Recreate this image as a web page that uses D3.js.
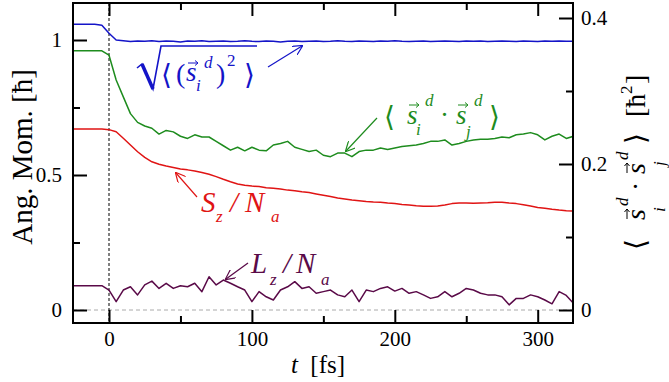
<!DOCTYPE html>
<html><head><meta charset="utf-8">
<script src="https://cdn.jsdelivr.net/npm/d3@7"></script>
<style>
html,body{margin:0;padding:0;background:#fff;}
svg{display:block;font-family:"Liberation Serif","DejaVu Serif",serif;}
</style></head>
<body>
<svg id="c" width="669" height="382"></svg>
<script>
const time = [-25,-20,-15,-10,-5,0,5,10,15,20,25,30,35,40,45,50,55,60,65,70,75,80,85,90,95,100,105,110,115,120,125,130,135,140,145,150,155,160,165,170,175,180,185,190,195,200,205,210,215,220,225,230,235,240,245,250,255,260,265,270,275,280,285,290,295,300,305,310,315,320,325];

// sqrt(<(s_i^d)^2>)  [hbar]  (left axis)
const blueVals = [1.058,1.058,1.058,1.058,1.055,1.025,1.0,0.997,0.994,0.996,0.995,0.997,0.994,0.996,0.995,0.993,0.996,0.995,0.997,0.994,0.995,0.996,0.994,0.995,0.997,0.995,0.994,0.996,0.995,0.993,0.995,0.996,0.994,0.995,0.996,0.994,0.995,0.997,0.995,0.994,0.996,0.995,0.994,0.996,0.995,0.997,0.995,0.994,0.995,0.996,0.994,0.995,0.996,0.995,0.994,0.996,0.995,0.996,0.994,0.995,0.996,0.995,0.994,0.996,0.995,0.994,0.996,0.995,0.996,0.995,0.995];

// <s_i^d . s_j^d>  [hbar^2]  (right axis)
const greenVals = [0.355,0.355,0.355,0.355,0.355,0.349,0.315,0.292,0.269,0.257,0.252,0.249,0.241,0.246,0.244,0.238,0.235,0.240,0.237,0.237,0.231,0.225,0.219,0.223,0.218,0.223,0.219,0.218,0.226,0.228,0.231,0.223,0.220,0.217,0.219,0.212,0.210,0.215,0.215,0.210,0.217,0.219,0.219,0.222,0.220,0.222,0.224,0.225,0.226,0.228,0.231,0.231,0.233,0.226,0.228,0.231,0.233,0.234,0.234,0.235,0.237,0.236,0.240,0.241,0.243,0.240,0.233,0.238,0.241,0.235,0.238];

// S_z / N_a  [hbar]  (left axis)
const redVals = [0.670,0.670,0.670,0.670,0.670,0.668,0.660,0.636,0.611,0.586,0.565,0.549,0.540,0.533,0.528,0.522,0.519,0.515,0.509,0.503,0.494,0.484,0.475,0.467,0.462,0.459,0.457,0.453,0.451,0.448,0.444,0.442,0.438,0.435,0.430,0.425,0.420,0.415,0.411,0.407,0.405,0.402,0.400,0.399,0.396,0.394,0.391,0.389,0.386,0.384,0.384,0.385,0.389,0.394,0.396,0.396,0.395,0.396,0.397,0.399,0.399,0.396,0.394,0.390,0.385,0.380,0.377,0.373,0.370,0.368,0.367];

// L_z / N_a  [hbar]  (left axis)
const purpleVals = [0.090,0.090,0.090,0.090,0.090,0.074,0.031,0.074,0.086,0.056,0.093,0.107,0.080,0.099,0.080,0.090,0.086,0.099,0.068,0.123,0.093,0.111,0.099,0.086,0.074,0.031,0.068,0.049,0.037,0.074,0.086,0.105,0.080,0.086,0.062,0.068,0.074,0.056,0.049,0.074,0.031,0.074,0.068,0.080,0.086,0.070,0.080,0.062,0.068,0.056,0.043,0.049,0.068,0.049,0.062,0.080,0.074,0.062,0.056,0.056,0.049,0.019,0.043,0.043,0.056,0.049,0.037,0.023,0.068,0.054,0.025];

const xTicks = [0,100,200,300];
const xMinor = [50,150,250];
const yLeftTicks = [0,0.5,1];
const yLeftMinor = [0.25,0.75];
const yRightTicks = [0,0.2,0.4];
const yRightMinor = [0.1,0.3];

const colors = {blue:"#1414c8", green:"#1e8c1e", red:"#e01414", purple:"#5a0a48"};

const L = 73, R = 573, T = 3, B = 323;
const svg = d3.select("#c");
const x = d3.scaleLinear().domain([-25.2, 324.7]).range([L, R]);
const yL = d3.scaleLinear().domain([0, 1]).range([310, 40]);
const yR = d3.scaleLinear().domain([0, 0.4]).range([310, 18]);

svg.append("clipPath").attr("id","clip").append("rect")
  .attr("x",L).attr("y",T).attr("width",R-L).attr("height",B-T);

// reference lines
svg.append("line").attr("x1",L).attr("x2",R).attr("y1",yL(0)).attr("y2",yL(0))
  .attr("stroke","#aaa").attr("stroke-width",1).attr("stroke-dasharray","4,3");
svg.append("line").attr("x1",x(0)).attr("x2",x(0)).attr("y1",T).attr("y2",B)
  .attr("stroke","#000").attr("stroke-width",1).attr("stroke-dasharray","3,2");

const g = svg.append("g").attr("clip-path","url(#clip)");
function drawSeries(vals, scale, color){
  const line = d3.line().x((d,i)=>x(time[i])).y(d=>scale(d));
  g.append("path").datum(vals).attr("d",line).attr("fill","none")
    .attr("stroke",color).attr("stroke-width",1.5).attr("stroke-linejoin","round");
}
drawSeries(blueVals, yL, colors.blue);
drawSeries(greenVals, yR, colors.green);
drawSeries(redVals, yL, colors.red);
drawSeries(purpleVals, yL, colors.purple);

// axes
const fs = 21;
function styleAxis(sel){
  sel.select(".domain").remove();
  sel.selectAll("line").attr("stroke","#000").attr("stroke-width",2);
  sel.selectAll("text").attr("font-size",fs).attr("font-family",'"Liberation Serif",serif').attr("fill","#000");
}
svg.append("g").attr("transform",`translate(0,${B})`)
  .call(d3.axisBottom(x).tickValues(xTicks).tickSize(-13).tickPadding(8).tickFormat(d3.format("d"))).call(styleAxis);
svg.append("g").attr("transform",`translate(0,${B})`)
  .call(d3.axisBottom(x).tickValues(xMinor).tickSize(-7).tickFormat("")).call(styleAxis);
svg.append("g").attr("transform",`translate(0,${T})`)
  .call(d3.axisTop(x).tickValues(xTicks).tickSize(-13).tickFormat("")).call(styleAxis);
svg.append("g").attr("transform",`translate(0,${T})`)
  .call(d3.axisTop(x).tickValues(xMinor).tickSize(-7).tickFormat("")).call(styleAxis);
svg.append("g").attr("transform",`translate(${L},0)`)
  .call(d3.axisLeft(yL).tickValues(yLeftTicks).tickSize(-14).tickPadding(11).tickFormat(d=>d===0?"0":d===1?"1":d3.format(".1f")(d))).call(styleAxis);
svg.append("g").attr("transform",`translate(${L},0)`)
  .call(d3.axisLeft(yL).tickValues(yLeftMinor).tickSize(-7).tickFormat("")).call(styleAxis);
svg.append("g").attr("transform",`translate(${R},0)`)
  .call(d3.axisRight(yR).tickValues(yRightTicks).tickSize(-14).tickPadding(8).tickFormat(d=>d===0?"0":d3.format(".1f")(d))).call(styleAxis);
svg.append("g").attr("transform",`translate(${R},0)`)
  .call(d3.axisRight(yR).tickValues(yRightMinor).tickSize(-7).tickFormat("")).call(styleAxis);

svg.append("rect").attr("x",L).attr("y",T).attr("width",R-L).attr("height",B-T)
  .attr("fill","none").attr("stroke","#000").attr("stroke-width",2);

// axis titles
const xt = svg.append("text").attr("x",318).attr("y",373).attr("text-anchor","middle").attr("font-size",25);
xt.append("tspan").attr("font-style","italic").text("t");
xt.append("tspan").text("\u00a0 [fs]");
svg.append("text").attr("transform","translate(32,157) rotate(-90)").attr("text-anchor","middle")
  .attr("font-size",29).text("Ang. Mom. [\u0127]");

// piecewise math label helper
function piece(parent, s, px, py, size, opts={}){
  return parent.append("text").attr("x",px).attr("y",py).attr("font-size",size)
    .attr("font-style",opts.italic?"italic":"normal").attr("fill",opts.color||"#000")
    .attr("font-family",opts.family||'"Liberation Serif","DejaVu Serif",serif').text(s);
}
// vector accent drawn as a small arrow path
function vec(parent, px, py, w, color){
  parent.append("path")
    .attr("d",`M${px},${py} h${w} M${px+w-3},${py-2.5} L${px+w},${py} L${px+w-3},${py+2.5}`)
    .attr("fill","none").attr("stroke",color||"#000").attr("stroke-width",1);
}
const ANG_L = "\u27E8", ANG_R = "\u27E9";
const DJ = '"DejaVu Serif",serif';

// right axis title (rotated)
const rg = svg.append("g").attr("transform","translate(645,250) rotate(-90)");
piece(rg, ANG_L, 0, 0, 28, {family:DJ});
piece(rg, "s", 30, 0, 28, {italic:true});
vec(rg, 31, -18, 10);
piece(rg, "i", 38, 20, 17, {italic:true});
piece(rg, "d", 44, -17, 17, {italic:true});
piece(rg, "\u00b7", 59, 0, 28);
piece(rg, "s", 76, 0, 28, {italic:true});
vec(rg, 77, -18, 10);
piece(rg, "j", 84, 20, 17, {italic:true});
piece(rg, "d", 90, -17, 17, {italic:true});
piece(rg, ANG_R, 106, 0, 28, {family:DJ});
piece(rg, "[\u0127", 133, 0, 28);
piece(rg, "2", 156, -13, 17);
piece(rg, "]", 166, 0, 28);

// arrows
const defs = svg.append("defs");
Object.entries(colors).forEach(([k,c])=>{
  defs.append("marker").attr("id","ah-"+k).attr("viewBox","0 0 10 10").attr("refX",9).attr("refY",5)
    .attr("markerWidth",10).attr("markerHeight",10).attr("markerUnits","userSpaceOnUse").attr("orient","auto")
    .append("path").attr("d","M0,0 L10,5 L0,10").attr("fill","none").attr("stroke",c).attr("stroke-width",1.2);
});
function arrow(x1,y1,x2,y2,k){
  svg.append("line").attr("x1",x1).attr("y1",y1).attr("x2",x2).attr("y2",y2)
    .attr("stroke",colors[k]).attr("stroke-width",1.2).attr("marker-end",`url(#ah-${k})`);
}

// blue label
const cb = colors.blue;
svg.append("path").attr("d","M137,68 L142,64 L153,89 L161,46 L257,46").attr("fill","none")
  .attr("stroke",cb).attr("stroke-width",1.6).attr("stroke-linejoin","miter");
svg.append("path").attr("d","M142,64 L153,89").attr("stroke",cb).attr("stroke-width",3.5);
piece(svg, ANG_L, 161, 84, 28, {color:cb, family:DJ});
piece(svg, "(", 176, 83, 28, {color:cb});
piece(svg, "s", 186, 81, 27, {italic:true, color:cb});
vec(svg, 188, 63, 10, cb);
piece(svg, "i", 196, 91, 17, {italic:true, color:cb});
piece(svg, "d", 204, 68, 17, {italic:true, color:cb});
piece(svg, ")", 216, 83, 28, {color:cb});
piece(svg, "2", 227, 66, 17, {color:cb});
piece(svg, ANG_R, 244, 84, 28, {color:cb, family:DJ});
arrow(268,67,302,46,"blue");

// green label
const cg = colors.green;
piece(svg, ANG_L, 384, 126, 28, {color:cg, family:DJ});
piece(svg, "s", 407, 124, 27, {italic:true, color:cg});
vec(svg, 409, 105, 10, cg);
piece(svg, "i", 416, 135, 17, {italic:true, color:cg});
piece(svg, "d", 425, 106, 17, {italic:true, color:cg});
piece(svg, "\u00b7", 440, 124, 27, {color:cg});
piece(svg, "s", 456, 124, 27, {italic:true, color:cg});
vec(svg, 458, 105, 10, cg);
piece(svg, "j", 466, 137, 17, {italic:true, color:cg});
piece(svg, "d", 474, 106, 17, {italic:true, color:cg});
piece(svg, ANG_R, 489, 126, 28, {color:cg, family:DJ});
arrow(377,118,346,151,"green");

// red label
const cr = colors.red;
piece(svg, "S", 201, 212, 29, {italic:true, color:cr});
piece(svg, "z", 216, 222, 17, {italic:true, color:cr});
piece(svg, "/", 230, 212, 29, {italic:true, color:cr});
piece(svg, "N", 245, 212, 29, {italic:true, color:cr});
piece(svg, "a", 271, 222, 17, {italic:true, color:cr});
arrow(197,197,176,173,"red");

// purple label
const cp = colors.purple;
piece(svg, "L", 251, 273, 29, {italic:true, color:cp});
piece(svg, "z", 270, 285, 17, {italic:true, color:cp});
piece(svg, "/", 283, 273, 29, {italic:true, color:cp});
piece(svg, "N", 296, 273, 29, {italic:true, color:cp});
piece(svg, "a", 321, 285, 17, {italic:true, color:cp});
arrow(248,263,226,279,"purple");
</script>
</body></html>
